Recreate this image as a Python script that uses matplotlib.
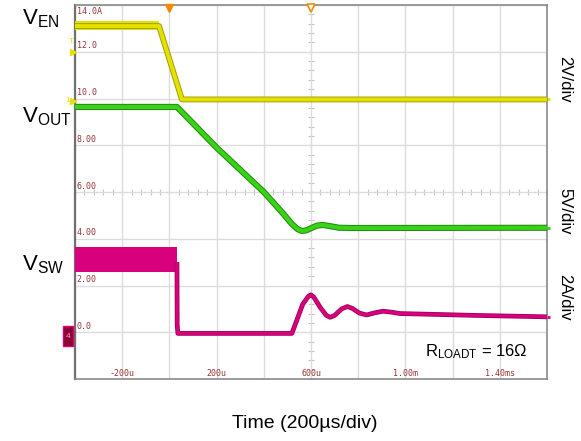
import numpy as np
import matplotlib.pyplot as plt
from matplotlib.patches import Rectangle

plt.rcParams['font.family'] = ['Liberation Sans', 'DejaVu Sans']
plt.rcParams['mathtext.fontset'] = 'custom'
plt.rcParams['mathtext.rm'] = 'Liberation Sans'

# --- scope traces: time in us, values in screen units (2 per division) ---
en_t = [-400, -44, 53, 1600]              # V_EN (yellow)
en_v = [13.1, 13.1, 9.96, 9.96]
en_band_t = [-400, -44]                    # noisy band while EN is high
en_band_hi = [13.3, 13.3]
en_band_lo = [12.92, 12.92]

out_t = [-400, 32, 200, 400, 480, 520, 545, 562, 580, 600, 625, 650, 680, 720, 780, 1600]   # V_OUT (green)
out_v = [9.64, 9.64, 7.9, 6.0, 5.1, 4.62, 4.4, 4.33, 4.36, 4.45, 4.56, 4.59, 4.54, 4.47, 4.46, 4.47]

sw_band_t = [-400, 32]                     # V_SW switching band (magenta)
sw_band_hi = [3.65, 3.65]
sw_band_lo = [2.58, 2.58]
sw_t = [32, 33, 36, 519, 565, 590, 600, 612, 640, 665, 681, 700, 730, 754, 775, 805, 836,
        870, 905, 940, 977, 1100, 1300, 1600]
sw_v = [3.0, 0.3, -0.05, -0.05, 1.2, 1.55, 1.6, 1.5, 1.05, 0.72, 0.64, 0.72, 1.0, 1.1, 1.02,
        0.82, 0.74, 0.83, 0.9, 0.86, 0.8, 0.77, 0.72, 0.66]

# --- scope screen labels ---
y_levels = [0, 2, 4, 6, 8, 10, 12, 14]
y_labels = ['0.0', '2.00', '4.00', '6.00', '8.00', '10.0', '12.0', '14.0A']
x_levels = [-200, 200, 600, 1000, 1400]
x_labels = ['-200u', '200u', '600u', '1.00m', '1.40ms']

YEL, YEL_D = '#e2e200', '#a89c00'
GRN, GRN_D = '#3ad11a', '#1d8a06'
MAG, MAG_D = '#d8007c', '#a0005a'
LBL = '#9a3434'

W, H = 581, 441
fig = plt.figure(figsize=(W / 100, H / 100), dpi=100)
ax = fig.add_axes([75 / W, 1 - 379 / H, 472 / W, 374 / H])
ax.set_xlim(-400, 1600)
ax.set_ylim(-2, 14)

# graticule
ax.set_xticks(np.arange(-400, 1601, 200))
ax.set_yticks(np.arange(-2, 15, 2))
ax.grid(True, color='#dcdcdc', lw=1.0, zorder=0)
ax.tick_params(length=0, labelleft=False, labelbottom=False)
for s in ax.spines.values():
    s.set_color('#8a8a8a')
    s.set_linewidth(1.2)
ax.spines['left'].set_color('#707070')
ax.spines['left'].set_linewidth(1.6)

# minor ticks on the centre crosshair
mx = np.arange(-400, 1601, 40)
my = np.arange(-2, 14.01, 0.4)
ax.plot(mx, np.full(mx.shape, 6.0), ls='none', marker='|', ms=4, mew=0.8, color='#c4c4c4', zorder=1)
ax.plot(np.full(my.shape, 600), my, ls='none', marker='_', ms=4, mew=0.8, color='#c4c4c4', zorder=1)

# traces
ax.fill_between(en_band_t, en_band_lo, en_band_hi, color=YEL, lw=0, zorder=3)
ax.plot(en_t, en_v, color=YEL_D, lw=4.2, solid_capstyle='butt', zorder=3)
ax.plot(en_t, en_v, color=YEL, lw=2.8, solid_capstyle='butt', zorder=3)

ax.plot(out_t, out_v, color=GRN_D, lw=4.4, solid_capstyle='butt', zorder=3)
ax.plot(out_t, out_v, color=GRN, lw=3.0, solid_capstyle='butt', zorder=3)

ax.fill_between(sw_band_t, sw_band_lo, sw_band_hi, color=MAG, lw=0, zorder=3)
ax.plot(sw_t, sw_v, color=MAG_D, lw=3.4, solid_capstyle='butt', zorder=3)
ax.plot(sw_t, sw_v, color=MAG, lw=2.2, solid_capstyle='butt', zorder=3)

# on-screen scale labels
for lv, lb in zip(y_levels, y_labels):
    ax.text(-392, lv - 0.1 if lb.endswith('A') else lv + 0.06, lb,
            va='top' if lb.endswith('A') else 'bottom', ha='left',
            family='DejaVu Sans Mono', fontsize=6, color=LBL, zorder=4)
for xv, xl in zip(x_levels, x_labels):
    ax.text(xv, -1.96, xl, va='bottom', ha='center',
            family='DejaVu Sans Mono', fontsize=6, color=LBL, zorder=4)

# trigger / ground markers
ax.plot(0, 13.88, marker='v', ms=6, color='#f08a00', clip_on=False, zorder=5)
ax.plot(600, 13.88, marker='v', ms=6, mfc='white', mec='#f08a00', mew=1.2, clip_on=False, zorder=5)
ax.plot(-408, 12.0, marker='>', ms=4, color=YEL, clip_on=False, zorder=5)
ax.text(-415, 12.3, 'T', color=YEL, fontsize=6, ha='center', va='bottom', clip_on=False)
ax.plot(-408, 9.9, marker='>', ms=4, color=YEL, clip_on=False, zorder=5)
ax.text(-430, 9.9, '1', color=YEL, fontsize=6, ha='center', va='center', clip_on=False)
ax.add_patch(Rectangle((-12 / 472, 33 / 374), 10 / 472, 20 / 374, transform=ax.transAxes,
                       fc='#8a0032', ec=MAG, lw=1, clip_on=False, zorder=5))
ax.text(-7 / 472, 43 / 374, '4', transform=ax.transAxes, color='#ff9ccc', fontsize=6,
        ha='center', va='center', clip_on=False, zorder=6)

# trace end marks on the right edge
ax.plot(1600, 9.96, marker='_', ms=5, mew=2, color=YEL, clip_on=False)
ax.plot(1600, 4.47, marker='_', ms=5, mew=2, color=GRN, clip_on=False)
ax.plot(1600, 0.66, marker='_', ms=5, mew=2, color=MAG, clip_on=False)

# channel names and scales
fig.text(22 / W, 1 - 7 / H, r'$\mathregular{V_{EN}}$', fontsize=16, ha='left', va='top')
fig.text(22 / W, 1 - 105 / H, r'$\mathregular{V_{OUT}}$', fontsize=16, ha='left', va='top')
fig.text(22 / W, 1 - 253 / H, r'$\mathregular{V_{SW}}$', fontsize=16, ha='left', va='top')
fig.text(565 / W, 1 - 79 / H, '2V/div', rotation=-90, fontsize=12, ha='center', va='center')
fig.text(565 / W, 1 - 211 / H, '5V/div', rotation=-90, fontsize=12, ha='center', va='center')
fig.text(565 / W, 1 - 297 / H, '2A/div', rotation=-90, fontsize=12, ha='center', va='center')
fig.text(425 / W, 1 - 352 / H, r'$\mathregular{R_{LOADT}}$ = 16Ω', fontsize=12, ha='left', va='center')
fig.text(305 / W, 1 - 423 / H, 'Time (200µs/div)', fontsize=14, ha='center', va='center')

fig.savefig('out.png', dpi=100)
